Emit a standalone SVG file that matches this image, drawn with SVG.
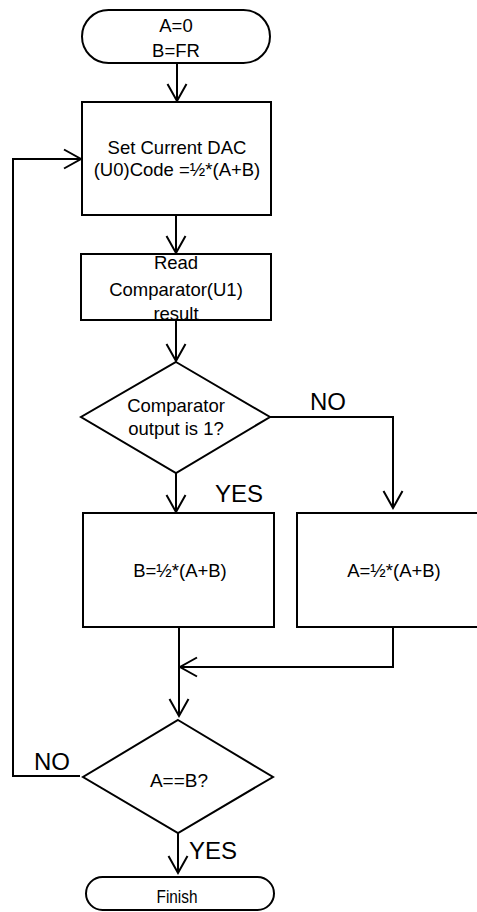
<svg xmlns="http://www.w3.org/2000/svg" width="477" height="912" viewBox="0 0 477 912">
<style>
.s{fill:#fff;stroke:#000;stroke-width:2}
.c{fill:none;stroke:#000;stroke-width:2}
text{font-family:"Liberation Sans",Arial,sans-serif;font-size:18.5px;fill:#000;text-anchor:middle}
.lbl{font-size:24px}
</style>
<defs>
<marker id="ah" markerUnits="userSpaceOnUse" markerWidth="24" markerHeight="24" viewBox="-20 -12 24 24" refX="0" refY="0" orient="auto">
<path d="M-17,-9.5 L0,0 L-17,9.5" fill="none" stroke="#000" stroke-width="2"/>
</marker>
</defs>
<g id="connectors">
<line class="c" x1="177" y1="63" x2="177" y2="101" marker-end="url(#ah)"/>
<line class="c" x1="176" y1="215" x2="176" y2="253" marker-end="url(#ah)"/>
<line class="c" x1="176" y1="320" x2="176" y2="361" marker-end="url(#ah)"/>
<polyline class="c" points="270,417 393,417 393,508" marker-end="url(#ah)"/>
<line class="c" x1="176" y1="473" x2="176" y2="512" marker-end="url(#ah)"/>
<line class="c" x1="179" y1="627" x2="179" y2="716" marker-end="url(#ah)"/>
<polyline class="c" points="393,627 393,667 180,667" marker-end="url(#ah)"/>
<polyline class="c" points="80,776 13,776 13,159 81,159" marker-end="url(#ah)"/>
<line class="c" x1="178" y1="833" x2="178" y2="873" marker-end="url(#ah)"/>
<text class="lbl" x="328" y="410">NO</text>
<text class="lbl" x="239" y="502">YES</text>
<text class="lbl" x="52" y="770">NO</text>
<text class="lbl" x="213" y="859">YES</text>
</g>
<g id="start">
<rect class="s" x="82" y="10" width="188" height="53" rx="26.5"/>
<text x="176" y="32">A=0</text>
<text x="176" y="57">B=FR</text>
</g>
<g id="setdac">
<rect class="s" x="82" y="102" width="189" height="113"/>
<text x="177" y="154">Set Current DAC</text>
<text x="177" y="176">(U0)Code =½*(A+B)</text>
</g>
<g id="read">
<rect class="s" x="81" y="254" width="190" height="66"/>
<text x="176" y="269">Read</text>
<text x="176" y="296">Comparator(U1)</text>
<text x="176" y="320">result</text>
</g>
<g id="cmp">
<polygon class="s" points="176,362 270,417 176,473 81,417"/>
<text x="176" y="412">Comparator</text>
<text x="176" y="435">output is 1?</text>
</g>
<g id="setB">
<rect class="s" x="83" y="513" width="191" height="114"/>
<text x="180" y="577">B=½*(A+B)</text>
</g>
<g id="setA">
<rect class="s" x="297" y="513" width="185" height="114"/>
<text x="394" y="577">A=½*(A+B)</text>
</g>
<g id="eq">
<polygon class="s" points="178,720 273,777 178,833 83,777"/>
<text x="179" y="787" style="font-size:19px">A==B?</text>
</g>
<g id="finish">
<rect class="s" x="86" y="877" width="188" height="33" rx="16.5"/>
<text x="177" y="903" style="font-size:19px" textLength="41" lengthAdjust="spacingAndGlyphs">Finish</text>
</g>
</svg>
